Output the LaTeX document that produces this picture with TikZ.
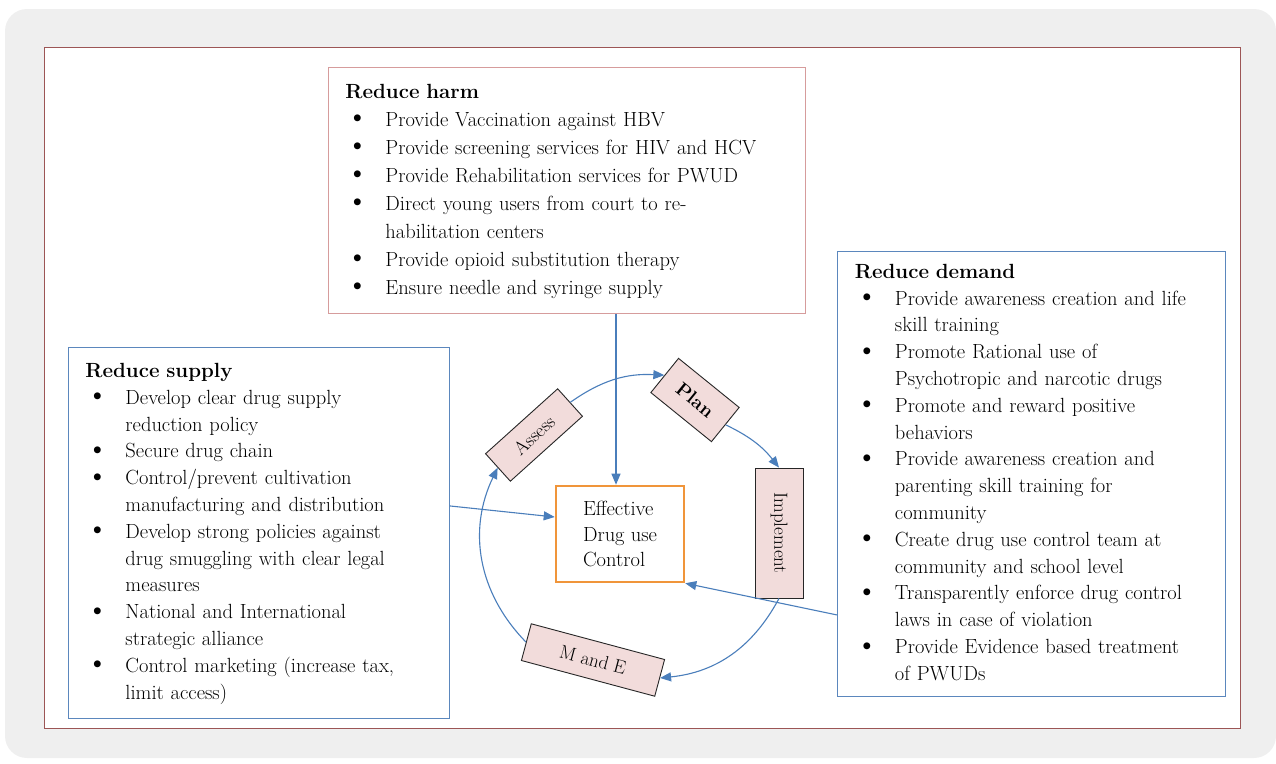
\documentclass[tikz,border=0pt]{standalone}
\usepackage{tikz}
\usepackage{graphicx}
\usetikzlibrary{arrows.meta, positioning, calc}
\usepackage{xcolor}
\definecolor{panelgray}{HTML}{EFEFEF}
\definecolor{framered}{HTML}{9C5555}
\definecolor{harmred}{HTML}{D69C9C}
\definecolor{boxblue}{HTML}{5B87BD}
\definecolor{linkblue}{HTML}{4A7EBB}
\definecolor{huborange}{HTML}{F0953A}
\definecolor{stagepink}{HTML}{F2DCDB}
\newcommand{\bul}{\makebox[40pt][l]{\hspace*{1pt}\raisebox{-0.5pt}{\scalebox{1.5}{\textbullet}}}}

\begin{document}
\begin{tikzpicture}[
  x=1pt, y=-1pt,
  every node/.style={font=\fontsize{20.5}{26.8}\selectfont},
  listbox/.style={draw, rectangle, fill=white, anchor=north west, inner xsep=17pt, inner ysep=0pt, align=left, line width=0.9pt},
  stagebox/.style={draw=black!85, rectangle, fill=stagepink, line width=0.9pt, inner sep=2pt, font=\fontsize{19}{22}\selectfont},
  arr/.style={-{Triangle[length=11pt, width=9pt]}, draw=linkblue, line width=1.1pt}
]
\useasboundingbox (0,0) rectangle (1276,763);
\fill[panelgray, rounded corners=22pt] (5,9) rectangle (1276,758);
\draw[framered, fill=white, line width=1pt] (44,47) rectangle (1240,728);

% the three strategy boxes
\node[listbox, draw=harmred, minimum width=477pt, minimum height=246pt, text width=443pt] (harm) at (328,67) {%
\renewcommand{\arraystretch}{1.045}%
\begin{tabular}{@{}l@{}l@{}}
\multicolumn{2}{@{}l@{}}{\textbf{Reduce harm}}\\
\bul & Provide Vaccination against HBV\\
\bul & Provide screening services for HIV and HCV\\
\bul & Provide Rehabilitation services for PWUD\\
\bul & Direct young users from court to re-\\
     & habilitation centers\\
\bul & Provide opioid substitution therapy\\
\bul & Ensure needle and syringe supply
\end{tabular}};

\node[listbox, draw=boxblue, minimum width=381pt, minimum height=371pt, text width=347pt] (supply) at (68,347) {%
\begin{tabular}{@{}l@{}l@{}}
\multicolumn{2}{@{}l@{}}{\textbf{Reduce supply}}\\
\bul & Develop clear drug supply\\
     & reduction policy\\
\bul & Secure drug chain\\
\bul & Control/prevent cultivation\\
     & manufacturing and distribution\\
\bul & Develop strong policies against\\
     & drug smuggling with clear legal\\
     & measures\\
\bul & National and International\\
     & strategic alliance\\
\bul & Control marketing (increase tax,\\
     & limit access)
\end{tabular}};

\node[listbox, draw=boxblue, minimum width=388pt, minimum height=445pt, text width=353pt] (demand) at (837,251) {%
\begin{tabular}{@{}l@{}l@{}}
\multicolumn{2}{@{}l@{}}{\textbf{Reduce demand}}\\
\bul & Provide awareness creation and life\\
     & skill training\\
\bul & Promote Rational use of\\
     & Psychotropic and narcotic drugs\\
\bul & Promote and reward positive\\
     & behaviors\\
\bul & Provide awareness creation and\\
     & parenting skill training for\\
     & community\\
\bul & Create drug use control team at\\
     & community and school level\\
\bul & Transparently enforce drug control\\
     & laws in case of violation\\
\bul & Provide Evidence based treatment\\
     & of PWUDs
\end{tabular}};

% centre and cycle
\node[draw=huborange, fill=white, line width=2.6pt, minimum width=128pt, minimum height=96pt, align=left,
  font=\fontsize{20.5}{25.5}\selectfont] (hub) at (620,534) {Effective\\Drug use\\Control};

\node[stagebox, minimum width=97pt, minimum height=37pt, rotate=42] (assess) at (534,435) {Assess};
\node[stagebox, minimum width=78pt, minimum height=44pt, rotate=-39] (plan) at (695,400) {\textbf{Plan}};
\node[stagebox, minimum width=130pt, minimum height=48pt, rotate=-90] (impl) at (779,533) {Implement};
\node[stagebox, minimum width=138pt, minimum height=38pt, rotate=-15] (mande) at (593,660) {M and E};

\draw[arr] (assess.east) to[bend left=19] (plan.west);
\draw[arr] (plan.east) to[bend left=13] (impl.west);
\draw[arr] (impl.east) to[bend left=28] (mande.east);
\draw[arr] (mande.west) to[bend left=35] (assess.west);

\draw[arr] ([xshift=-4pt]hub.north |- harm.south) -- ([xshift=-4pt]hub.north);
\draw[arr] ([yshift=27pt]supply.east) -- ([yshift=17pt]hub.west);
\draw[arr] ([yshift=-141pt]demand.west) -- (hub.south east);
\end{tikzpicture}
\end{document}
